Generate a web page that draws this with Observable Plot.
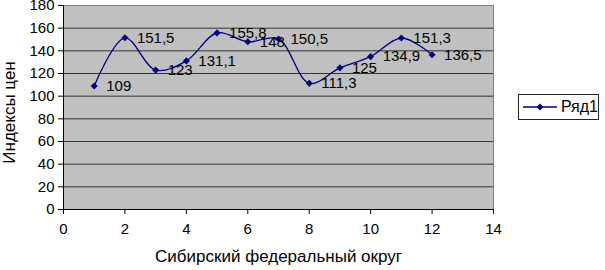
<!DOCTYPE html>
<html><head><meta charset="utf-8">
<script src="https://cdn.jsdelivr.net/npm/d3@7"></script>
<script src="https://cdn.jsdelivr.net/npm/@observablehq/plot@0.6"></script>
<style>
body{margin:0;background:#fff;font-family:"Liberation Sans",Arial,sans-serif}
#wrap{position:relative;width:605px;height:270px;overflow:hidden}
#legend{position:absolute;left:518px;top:94px;width:81px;height:26px;box-sizing:border-box;border:1px solid #222;background:#fff;display:flex;align-items:center;font-size:16px;color:#000}
#legend svg{margin-left:4px;margin-right:4px}
</style></head><body><div id="wrap"></div>
<script>
const districts = [1,2,3,4,5,6,7,8,9,10,11,12];
const indices = [109,151.5,123,131.1,155.8,148,150.5,111.3,125,134.9,151.3,136.5];
const xTicks = [0,2,4,6,8,10,12,14];
const yTicks = [0,20,40,60,80,100,120,140,160,180];
const seriesName = "Ряд1";
const xTitle = "Сибирский федеральный округ";
const yTitle = "Индексы цен";

const data = districts.map((d,i)=>({x:d, y:indices[i], label:String(indices[i]).replace(".", ",")}));
const navy = "#000080";
const font = "'Liberation Sans', Arial, sans-serif";

const chart = Plot.plot({
  width:605, height:270,
  marginLeft:63, marginRight:112, marginTop:5, marginBottom:61,
  x:{domain:[0,14]},
  y:{domain:[0,180]},
  style:{fontFamily:font, fontSize:"15px", color:"#000", background:"transparent"},
  marks:[
    Plot.frame({fill:"#c0c0c0", stroke:"#808080"}),
    Plot.ruleY(yTicks.filter(v=>v>0 && v<180), {stroke:"#333", strokeWidth:1}),
    Plot.ruleX([0], {stroke:"#000"}),
    Plot.ruleY([0], {stroke:"#000"}),
    Plot.axisY(yTicks, {tickSize:5, tickPadding:4, label:null, fontSize:15, stroke:"#000"}),
    Plot.axisX(xTicks, {tickSize:5, tickPadding:9, label:null, fontSize:15, stroke:"#000"}),
    Plot.line(data, {x:"x", y:"y", curve:"catmull-rom", stroke:navy, strokeWidth:1.3}),
    Plot.dot(data, {x:"x", y:"y", symbol:"diamond2", r:3.2, fill:navy, stroke:"none"}),
    Plot.text(data, {x:"x", y:"y", text:"label", dx:12, textAnchor:"start", fontSize:15, fill:"#000"}),
    Plot.text([xTitle], {frameAnchor:"bottom", dy:52, fontSize:17, fill:"#000"}),
    Plot.text([yTitle], {frameAnchor:"left", textAnchor:"middle", dx:-54, dy:5, rotate:-90, fontSize:17, fill:"#000"})
  ]
});
const wrap = document.getElementById("wrap");
wrap.appendChild(chart);
const leg = document.createElement("div");
leg.id = "legend";
leg.innerHTML = `<svg width="34" height="10"><line x1="0" y1="5" x2="34" y2="5" stroke="${navy}" stroke-width="1.3"/><path d="M17,1.5L20.5,5L17,8.5L13.5,5Z" fill="${navy}"/></svg><span></span>`;
leg.querySelector("span").textContent = seriesName;
wrap.appendChild(leg);
</script>
</body></html>
